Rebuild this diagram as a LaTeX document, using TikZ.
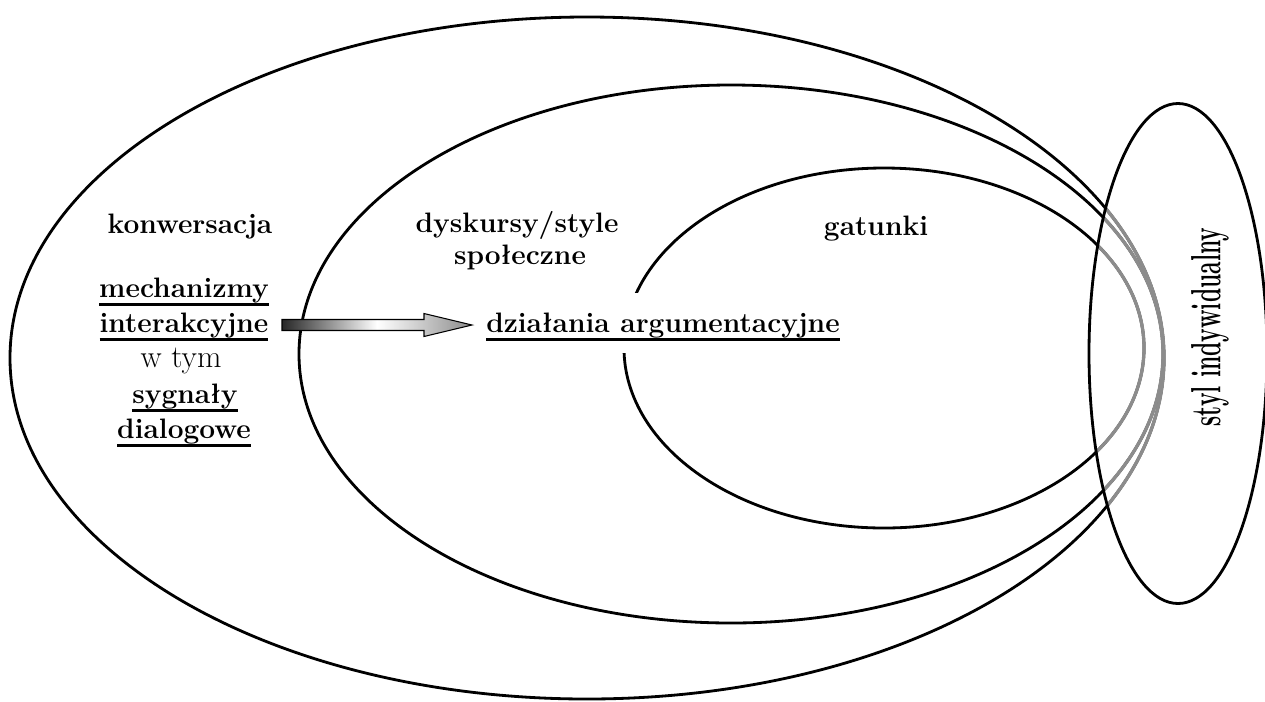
\documentclass[tikz,border=0pt]{standalone}
\usepackage{fontspec}
\usepackage{tikz}

\newcommand{\undl}[1]{\setbox0\hbox{#1}\rlap{\raisebox{-5pt}{\rule{\wd0}{1.4pt}}}\box0}

\tikzset{
  txt/.style={font=\bfseries\fontsize{16}{20}\selectfont, inner sep=0pt, anchor=base},
  plain/.style={txt, font=\fontsize{18}{20}\selectfont},
  ring/.style={line width=1.6pt},
  greyring/.style={line width=1.9pt, color=black!45},
}

\begin{document}
\begin{tikzpicture}[x=0.02cm,y=-0.02cm]
\useasboundingbox (0,0) rectangle (1265,701);

% the three nested fields
\draw[ring] (587,358) ellipse [x radius=577, y radius=341];
\draw[ring] (731,354) ellipse [x radius=432, y radius=269];
\draw[ring] (884,348) ellipse [x radius=260, y radius=180];

% grey where they run into the individual style
\begin{scope}
\clip (1178,353.5) ellipse [x radius=89, y radius=250];
\draw[greyring] (587,358) ellipse [x radius=577, y radius=341];
\draw[greyring] (731,354) ellipse [x radius=432, y radius=269];
\draw[greyring] (884,348) ellipse [x radius=260, y radius=180];
\end{scope}
\draw[ring] (1178,353.5) ellipse [x radius=89, y radius=250];

\node[txt] (K) at (190,233) {konwersacja};
\node[txt] (M1) at (184,297) {\undl{mechanizmy}};
\node[txt] (M2) at (184,332) {\undl{interakcyjne}};
\node[plain] (M3) at (181,367) {w tym};
\node[txt] (M4) at (185,403) {\undl{sygnały}};
\node[txt] (M5) at (184,438) {\undl{dialogowe}};

\node[txt] (D1) at (517,232) {dyskursy/style};
\node[txt] (D2) at (520,264) {społeczne};

\node[txt] (G) at (876,235) {gatunki};

\node[txt, fill=white, text height=22pt, text depth=12pt, inner xsep=3pt] (A) at (663,332) {\undl{działania argumentacyjne}};

\node[rotate=90, inner sep=0pt, font=\bfseries\fontsize{24}{28}\selectfont] (S) at (1210,327) {\scalebox{0.54}[1]{styl indywidualny}};

% shaded arrow
\coordinate (arrA) at (282,325);
\coordinate (arrB) at (472,325);
\shade[draw, line width=0.6pt, left color=black!85, right color=black!45, middle color=white]
  (arrA) ++(0,-5.5) -- ++(142,0) -- ++(0,-6) -- (arrB) -- ++(-48,11.5) -- ++(0,-6) -- ++(-142,0) -- cycle;
\end{tikzpicture}
\end{document}
